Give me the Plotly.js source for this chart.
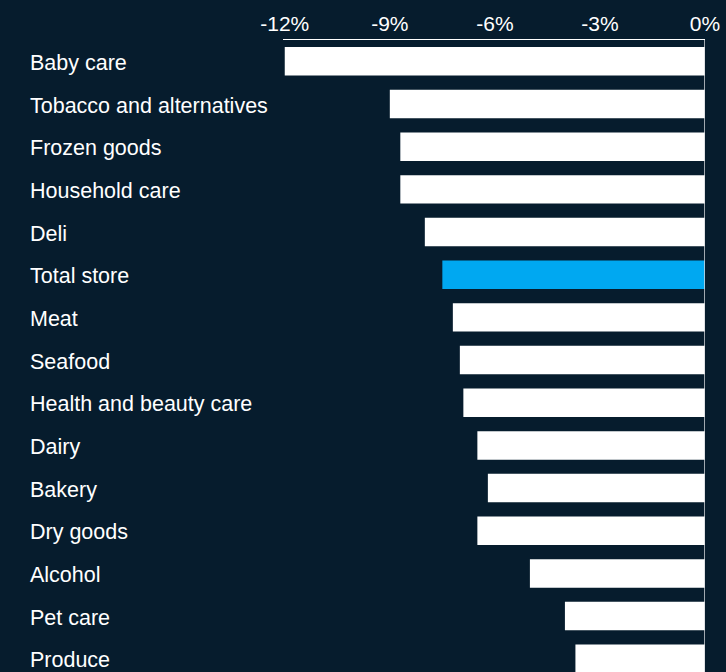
<!DOCTYPE html>
<html>
<head>
<meta charset="utf-8">
<script src="https://cdn.plot.ly/plotly-3.0.1.min.js"></script>
<style>
html,body{margin:0;padding:0;background:#061c2d;}
#chart{width:726px;height:672px;}
</style>
</head>
<body>
<div id="chart"></div>
<script>
var categories = ["Baby care","Tobacco and alternatives","Frozen goods","Household care","Deli","Total store","Meat","Seafood","Health and beauty care","Dairy","Bakery","Dry goods","Alcohol","Pet care","Produce"];
var values = [-12.0,-9.0,-8.7,-8.7,-8.0,-7.5,-7.2,-7.0,-6.9,-6.5,-6.2,-6.5,-5.0,-4.0,-3.7];
var tickValues = [-12,-9,-6,-3,0];
var tickLabels = ["-12%","-9%","-6%","-3%","0%"];
var highlight = "Total store";

var colors = categories.map(function(c){ return c === highlight ? "#00a8f1" : "#ffffff"; });
var idx = categories.map(function(c,i){ return i; });

var trace = {
  type: "bar",
  orientation: "h",
  x: values,
  y: idx,
  marker: {color: colors, line: {width: 0}},
  hoverinfo: "skip"
};

var annotations = categories.map(function(c,i){
  return {xref:"paper", yref:"y", x:-0.6043, y:i, xanchor:"left", yanchor:"middle", yshift:-1.5,
          text:c, showarrow:false, font:{family:"Liberation Sans, Arial, sans-serif", size:21.5, color:"#ffffff"}};
});

var layout = {
  width: 726, height: 672,
  margin: {l:283, r:21, t:40, b:0, pad:0},
  paper_bgcolor: "#061c2d",
  plot_bgcolor: "#061c2d",
  showlegend: false,
  bargap: 0.333,
  xaxis: {
    side: "top",
    range: [-12.05, 0],
    tickvals: tickValues,
    ticktext: tickLabels,
    tickfont: {family:"Liberation Sans, Arial, sans-serif", size:21, color:"#ffffff"},
    showgrid: false,
    zeroline: false,
    showline: true,
    linecolor: "#ffffff",
    linewidth: 1,
    ticks: "",
    fixedrange: true
  },
  yaxis: {
    range: [14.31, -0.5],
    showticklabels: false,
    showgrid: false,
    zeroline: false,
    showline: false,
    ticks: "",
    fixedrange: true
  },
  shapes: [{type:"line", xref:"x", yref:"paper", x0:0, x1:0, y0:0, y1:1, line:{color:"#d6d9dc", width:1.5}}],
  annotations: annotations
};

Plotly.newPlot("chart", [trace], layout, {displayModeBar:false, staticPlot:true});
</script>
</body>
</html>
